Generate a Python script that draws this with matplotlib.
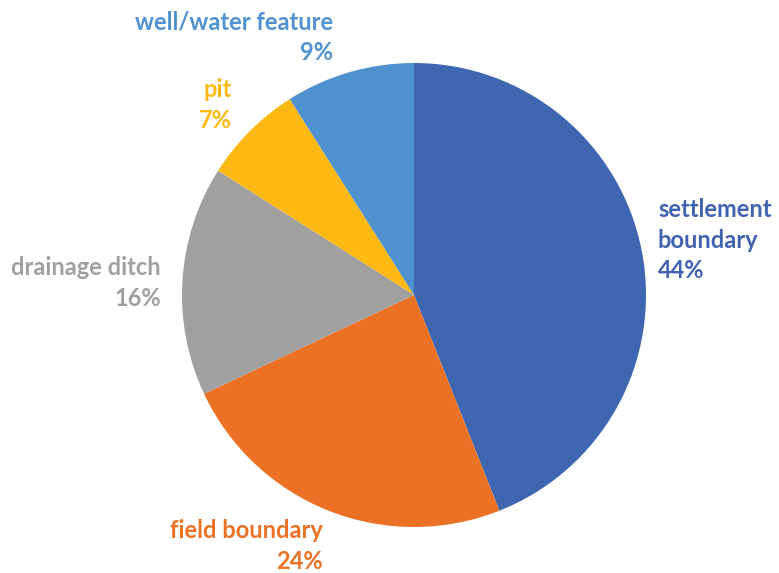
import matplotlib.pyplot as plt

cats = ["settlement\nboundary", "field boundary", "drainage ditch", "pit", "well/water feature"]
values = [44, 24, 16, 7, 9]
colors = ["#3F66B0", "#EB7125", "#A0A0A0", "#FDB913", "#4F92CF"]
text_colors = ["#3F63AE", "#EB7125", "#A0A0A0", "#FDB913", "#4F92CF"]

# label anchors in pixel coords (top-left origin), alignment
label_pos = [(658, 240, "left"), (323, 546, "right"), (161, 283, "right"),
             (232, 105, "right"), (333, 37, "right")]

W, H = 779, 573
fig = plt.figure(figsize=(W / 100, H / 100), dpi=100)
ax = fig.add_axes([0, 0, 1, 1])

ax.pie(values, colors=colors, startangle=90, counterclock=False,
       center=(414, H - 295), radius=232, frame=True,
       wedgeprops=dict(linewidth=0))

for cat, v, (x, y, ha), c in zip(cats, values, label_pos, text_colors):
    ax.text(x, H - y, f"{cat}\n{v}%", ha=ha, va="center", color=c,
            fontsize=17, fontweight="bold", family="Lato", linespacing=1.4)

ax.set_xlim(0, W)
ax.set_ylim(0, H)
ax.set_aspect("equal")
ax.axis("off")
fig.savefig("out.png", dpi=100)
